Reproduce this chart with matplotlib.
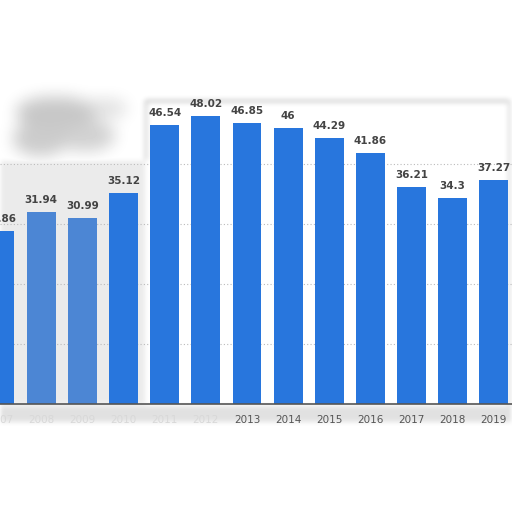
import numpy as np
import matplotlib.pyplot as plt

# Data
years = ['2007', '2008', '2009', '2010', '2011', '2012', '2013',
         '2014', '2015', '2016', '2017', '2018', '2019']
values = [28.86, 31.94, 30.99, 35.12, 46.54, 48.02, 46.85,
          46, 44.29, 41.86, 36.21, 34.3, 37.27]
labels = ['28.86', '31.94', '30.99', '35.12', '46.54', '48.02', '46.85',
          '46', '44.29', '41.86', '36.21', '34.3', '37.27']

blue = '#2876dd'
faded_blue = '#4c86d4'


def blur(a, r):
    # simple separable box blur, run a few times
    k = np.ones(2 * r + 1) / (2 * r + 1)
    for _ in range(3):
        a = np.apply_along_axis(lambda v: np.convolve(v, k, mode='same'), 0, a)
        a = np.apply_along_axis(lambda v: np.convolve(v, k, mode='same'), 1, a)
    return a


# grey "torn paper" shading behind the chart (pixel grid, top-left origin)
yy, xx = np.mgrid[0:512, 0:512]
shade = np.zeros((512, 512))
for cx, cy, rx, ry, d in [(55, 112, 40, 16, 0.22), (40, 138, 28, 18, 0.2),
                          (85, 135, 30, 16, 0.18), (105, 108, 22, 10, 0.12)]:
    shade = np.maximum(shade, d * (((xx - cx) / rx) ** 2 + ((yy - cy) / ry) ** 2 < 1))
shade = blur(shade, 7)
area = np.zeros((512, 512))
area[(xx < 145) & (yy > 160) & (yy < 404)] = 0.08
shade = np.maximum(shade, blur(area, 2))
edge = np.zeros((512, 512))
edge[100:102, 147:508] = 0.3
edge[100:160, 145:147] = 0.25
edge[406:422, 0:512] = 0.12
edge[100:422, 508:512] = 0.12
shade = shade + blur(edge, 2)
shade = np.clip(shade, 0, 1)

fig = plt.figure(figsize=(5.12, 5.12), dpi=100)
bg = fig.add_axes([0, 0, 1, 1], zorder=0)
bg.imshow(1 - shade, cmap='gray', vmin=0, vmax=1, extent=(0, 512, 512, 0),
          interpolation='bilinear')
bg.set_axis_off()

ax = fig.add_axes([0, 108 / 512, 1, 300 / 512], zorder=1)
ax.patch.set_alpha(0)

x = np.arange(len(years))
colors = [blue if i not in (1, 2) else faded_blue for i in range(len(years))]
bars = ax.bar(x, values, width=0.7, color=colors, zorder=2)

# value labels on top of the bars
for xi, v, lab in zip(x, values, labels):
    ax.annotate(lab, (xi, v), xytext=(0, 5), textcoords='offset points',
                ha='center', va='bottom', fontsize=7.5, fontweight='bold',
                color='#444444')

ax.set_xlim(0.161, 12.44)
ax.set_ylim(0, 50)
ax.set_yticks([10, 20, 30, 40])
ax.yaxis.grid(True, linestyle=(0, (1, 2)), color='#bbbbbb', linewidth=0.8, zorder=0)
ax.tick_params(axis='y', left=False, labelleft=False)

ax.set_xticks(x)
ax.set_xticklabels(years, fontsize=7.5, color='#555555')
for i, t in enumerate(ax.get_xticklabels()):
    if i < 6:
        t.set_color('#d8d8d8')
ax.tick_params(axis='x', length=0, pad=8)

for side in ['top', 'right', 'left']:
    ax.spines[side].set_visible(False)
ax.spines['bottom'].set_color('#555555')
ax.spines['bottom'].set_linewidth(1.2)

fig.savefig('out.png', dpi=100)
